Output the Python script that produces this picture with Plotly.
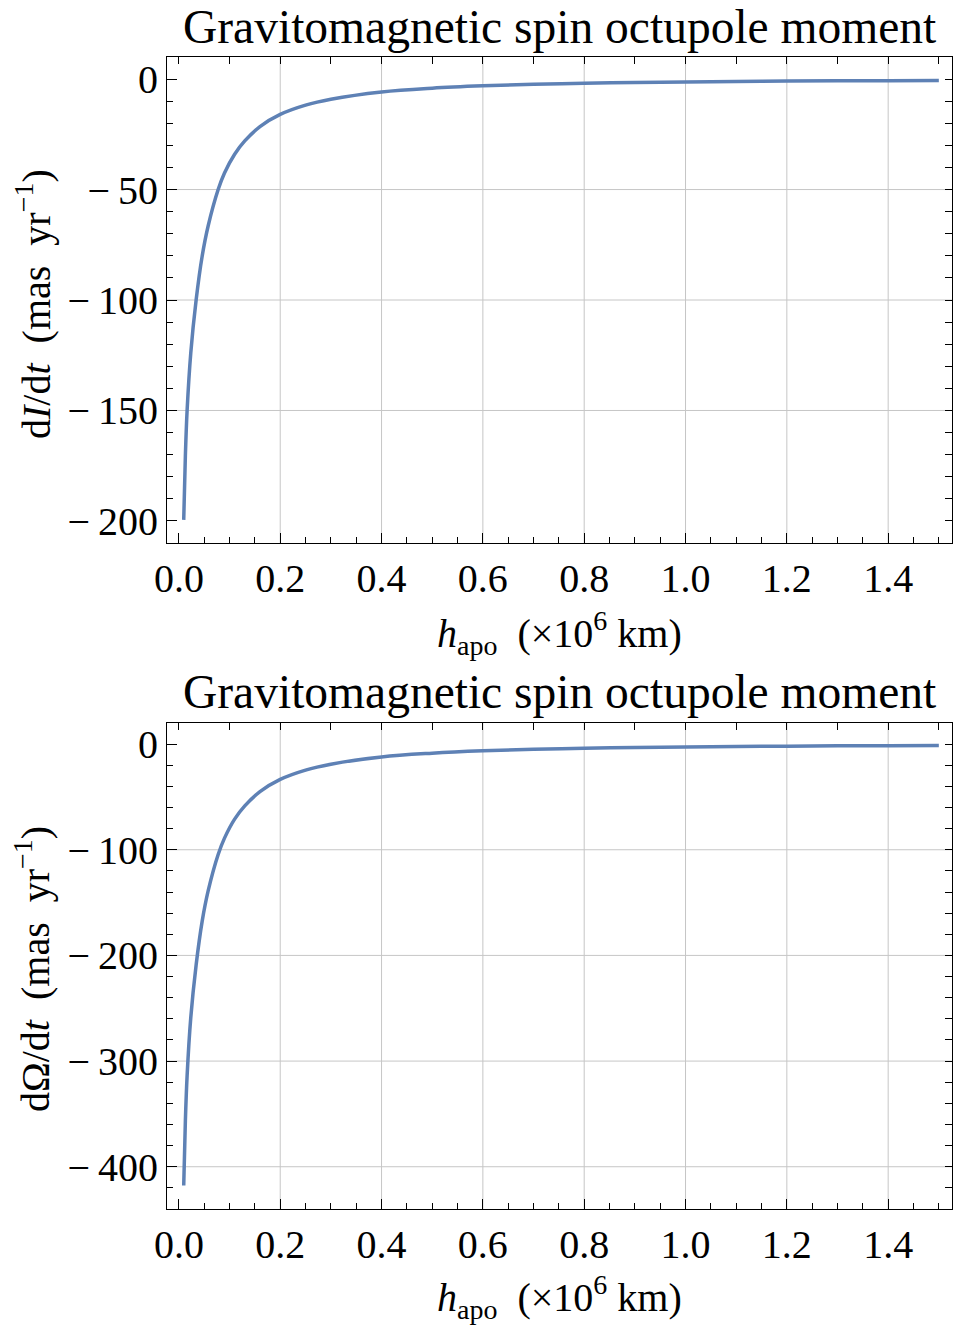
import plotly.graph_objects as go

# ---- data ----
h_top = [0.0095, 0.0128, 0.0162, 0.0234, 0.034, 0.0458, 0.0577, 0.0775, 0.09, 0.11,
         0.13, 0.16, 0.2, 0.25, 0.3, 0.4, 0.5, 0.6, 0.7, 0.8, 0.9, 1.0, 1.1, 1.2, 1.3, 1.4, 1.5]
dI_dt = [-199.5, -170.3, -150, -124, -100, -80.3, -66.5, -50, -42.5, -34,
         -28, -21.5, -16.0, -11.8, -9.1, -5.8, -4.1, -3.06, -2.37, -1.89, -1.54, -1.28, -1.08, -0.92, -0.80, -0.70, -0.62]

h_bot = [0.0095, 0.0128, 0.0162, 0.0234, 0.034, 0.0458, 0.0577, 0.0775, 0.09, 0.11,
         0.13, 0.16, 0.2, 0.25, 0.3, 0.4, 0.5, 0.6, 0.7, 0.8, 0.9, 1.0, 1.1, 1.2, 1.3, 1.4, 1.5]
dOmega_dt = [-417.7, -356, -314, -259, -209, -168, -139, -104.5, -89, -71,
             -58.5, -45, -33.4, -24.6, -19, -12.1, -8.6, -6.4, -4.95, -3.95, -3.22, -2.68, -2.26, -1.92, -1.67, -1.46, -1.3]

x_tickvals = [0.0, 0.2, 0.4, 0.6, 0.8, 1.0, 1.2, 1.4]
x_ticktext = ["0.0", "0.2", "0.4", "0.6", "0.8", "1.0", "1.2", "1.4"]
x_grid = [0.2, 0.4, 0.6, 0.8, 1.0, 1.2, 1.4]

y1_tickvals = [0, -50, -100, -150, -200]
y1_ticktext = ["0", "\u2212\u200950", "\u2212\u2009100", "\u2212\u2009150", "\u2212\u2009200"]
y1_grid = [-50, -100, -150]

y2_tickvals = [0, -100, -200, -300, -400]
y2_ticktext = ["0", "\u2212\u2009100", "\u2212\u2009200", "\u2212\u2009300", "\u2212\u2009400"]
y2_grid = [-100, -200, -300, -400]

title_text = "Gravitomagnetic spin octupole moment"
xlabel = "<i>h</i><sub>apo</sub>\u00a0\u00a0(\u00d710<sup>6</sup> km)"
ylabel1 = "d<i>I</i>/d<i>t</i>\u00a0\u00a0(mas\u00a0\u00a0yr<sup>\u22121</sup>)"
ylabel2 = "d\u03a9/d<i>t</i>\u00a0\u00a0(mas\u00a0\u00a0yr<sup>\u22121</sup>)"

XRANGE = [-0.0235, 1.526]
Y1RANGE = [-210, 10]
Y2RANGE = [-440, 20]

LINE_COLOR = "#5E81B5"
GRID_COLOR = "rgb(198,198,198)"
FONT = "Liberation Serif, Times New Roman, serif"
TICKFONT = dict(family=FONT, size=40, color="black")

fig = go.Figure()
fig.add_trace(go.Scatter(x=h_top, y=dI_dt, mode="lines", line=dict(color=LINE_COLOR, width=3.5, shape="spline", smoothing=1.0),
                         xaxis="x", yaxis="y", showlegend=False, hoverinfo="skip"))
fig.add_trace(go.Scatter(x=h_bot, y=dOmega_dt, mode="lines", line=dict(color=LINE_COLOR, width=3.5, shape="spline", smoothing=1.0),
                         xaxis="x2", yaxis="y2", showlegend=False, hoverinfo="skip"))
# empty traces so the tick-only frame axes (top / right) are drawn
for xa, ya in [("x3", "y3"), ("x4", "y4")]:
    fig.add_trace(go.Scatter(x=[None], y=[None], xaxis=xa, yaxis=ya, showlegend=False, hoverinfo="skip"))

D_TOP = [0.5781, 1.0]
D_BOT = [0.0, 0.4219]

def xax(anchor):
    return dict(range=XRANGE, domain=[0, 1], anchor=anchor, tickvals=x_tickvals, ticktext=x_ticktext,
                ticks="inside", ticklen=10, tickwidth=1, tickcolor="black", showline=True, linecolor="black",
                linewidth=1, mirror=True, showgrid=False, zeroline=False, tickfont=TICKFONT,
                minor=dict(ticks="inside", dtick=0.05, tick0=0, ticklen=6, tickwidth=1, tickcolor="black", showgrid=False))

def yax(domain, anchor, rng, tv, tt, minor_dtick):
    return dict(range=rng, domain=domain, anchor=anchor, tickvals=tv, ticktext=tt,
                ticks="inside", ticklen=10, tickwidth=1, tickcolor="black", showline=True, linecolor="black",
                linewidth=1, mirror=True, showgrid=False, zeroline=False, tickfont=TICKFONT,
                minor=dict(ticks="inside", dtick=minor_dtick, tick0=0, ticklen=6, tickwidth=1, tickcolor="black", showgrid=False))

def frame_x(anchor, over):
    return dict(range=XRANGE, domain=[0, 1], anchor=anchor, overlaying=over, side="top", dtick=0.1, tick0=0,
                ticks="inside", ticklen=7, tickcolor="black", showticklabels=False, showgrid=False,
                zeroline=False, showline=False)

def frame_y(domain, anchor, over, rng, dt):
    return dict(range=rng, domain=domain, anchor=anchor, overlaying=over, side="right", dtick=dt, tick0=0,
                ticks="inside", ticklen=7, tickcolor="black", showticklabels=False, showgrid=False,
                zeroline=False, showline=False)

fig.update_layout(
    width=953, height=1328,
    margin=dict(l=167, r=1, t=57, b=119, autoexpand=False),
    paper_bgcolor="white", plot_bgcolor="white",
    xaxis=xax("y"),
    yaxis=yax(D_TOP, "x", Y1RANGE, y1_tickvals, y1_ticktext, 10),
    xaxis2=xax("y2"),
    yaxis2=yax(D_BOT, "x2", Y2RANGE, y2_tickvals, y2_ticktext, 20),
    xaxis3=frame_x("y3", "x"),
    yaxis3=frame_y(D_TOP, "x3", "y", Y1RANGE, 10),
    xaxis4=frame_x("y4", "x2"),
    yaxis4=frame_y(D_BOT, "x4", "y2", Y2RANGE, 20),
)

shapes = []
for xa, ya in [("x", "y"), ("x2", "y2")]:
    for gx in x_grid:
        shapes.append(dict(type="line", xref=xa, yref=f"{ya} domain", x0=gx, x1=gx, y0=0, y1=1,
                           line=dict(color=GRID_COLOR, width=1), layer="below"))
for gy in y1_grid:
    shapes.append(dict(type="line", xref="x domain", yref="y", x0=0, x1=1, y0=gy, y1=gy,
                       line=dict(color=GRID_COLOR, width=1), layer="below"))
for gy in y2_grid:
    shapes.append(dict(type="line", xref="x2 domain", yref="y2", x0=0, x1=1, y0=gy, y1=gy,
                       line=dict(color=GRID_COLOR, width=1), layer="below"))
fig.update_layout(shapes=shapes)

TF = dict(family=FONT, size=47.5, color="black")
LF = dict(family=FONT, size=40, color="black")
ann = [
    dict(text=title_text, xref="paper", yref="paper", x=0.5, y=1.026, xanchor="center", yanchor="middle",
         showarrow=False, font=TF),
    dict(text=title_text, xref="paper", yref="paper", x=0.5, y=0.4488, xanchor="center", yanchor="middle",
         showarrow=False, font=TF),
    dict(text=xlabel, xref="paper", yref="paper", x=0.5, y=0.5, xanchor="center", yanchor="middle",
         showarrow=False, font=LF),
    dict(text=xlabel, xref="paper", yref="paper", x=0.5, y=-0.0767, xanchor="center", yanchor="middle",
         showarrow=False, font=LF),
    dict(text=ylabel1, xref="paper", yref="paper", x=-0.1707, y=(D_TOP[0] + D_TOP[1]) / 2, yshift=-4,
         xanchor="center", yanchor="middle", textangle=-90, showarrow=False, font=LF),
    dict(text=ylabel2, xref="paper", yref="paper", x=-0.1707, y=(D_BOT[0] + D_BOT[1]) / 2, yshift=-3,
         xanchor="center", yanchor="middle", textangle=-90, showarrow=False, font=LF),
]
fig.update_layout(annotations=ann)

# remove the page's default body margin / scrollbar so the figure fills the 953x1328 window exactly
post = ("document.body.style.margin='0';document.body.style.overflow='hidden';"
        "var gd=document.getElementById('{plot_id}');"
        "Plotly.relayout(gd,{width:953,height:1328});")
fig.write_html("out.html", config={"displayModeBar": False}, post_script=post)
